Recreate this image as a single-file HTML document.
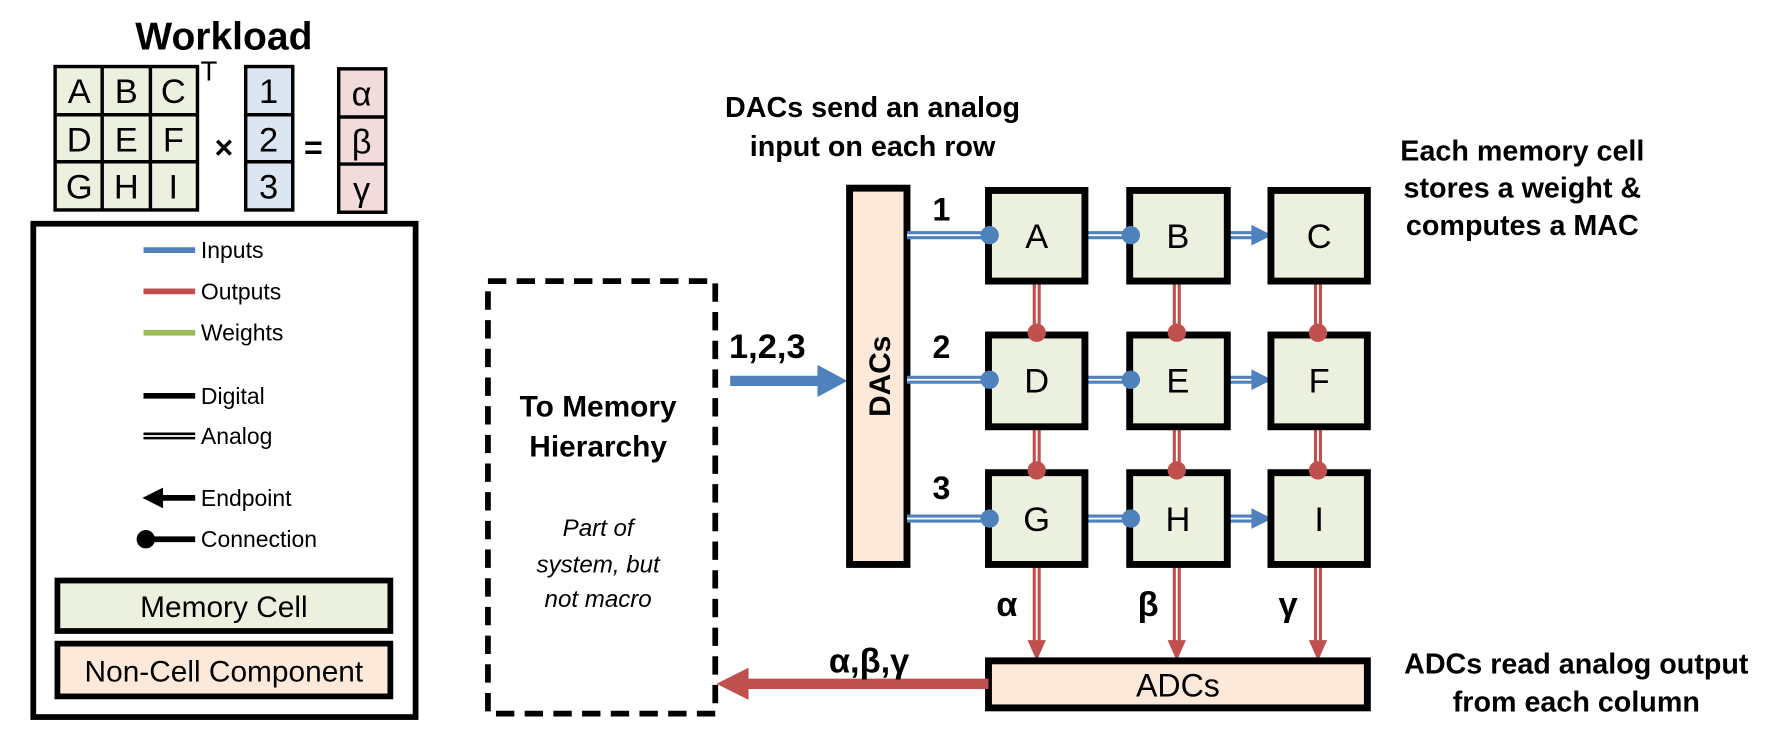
<!DOCTYPE html>
<html><head><meta charset="utf-8"><style>
html,body{margin:0;padding:0;background:#fff;}
svg{display:block;}
text{font-family:"Liberation Sans","DejaVu Sans",sans-serif;fill:#000;}
.b{font-weight:bold;}
</style></head><body>
<svg width="1791" height="740" viewBox="0 0 1560 645" preserveAspectRatio="none" xmlns="http://www.w3.org/2000/svg">
<!-- Workload -->
<text x="195" y="43" font-size="34" class="b" text-anchor="middle">Workload</text>
<g stroke="#000" stroke-width="3">
<rect x="48" y="58" width="124" height="125" fill="#ebf0df"/>
<line x1="89" y1="58" x2="89" y2="183"/><line x1="131" y1="58" x2="131" y2="183"/>
<line x1="48" y1="100" x2="172" y2="100"/><line x1="48" y1="141" x2="172" y2="141"/>
<rect x="214" y="58" width="41" height="125" fill="#dce6f2"/>
<line x1="214" y1="100" x2="255" y2="100"/><line x1="214" y1="141" x2="255" y2="141"/>
<rect x="295" y="60" width="41" height="125" fill="#f2dcdb"/>
<line x1="295" y1="102" x2="336" y2="102"/><line x1="295" y1="143" x2="336" y2="143"/>
</g>
<g font-size="30" text-anchor="middle">
<text x="69" y="90">A</text><text x="110" y="90">B</text><text x="151" y="90">C</text>
<text x="69" y="132">D</text><text x="110" y="132">E</text><text x="151" y="132">F</text>
<text x="69" y="173">G</text><text x="110" y="173">H</text><text x="151" y="173">I</text>
<text x="234" y="90">1</text><text x="234" y="132">2</text><text x="234" y="173">3</text>
<text x="315" y="92">α</text><text x="315" y="134">β</text><text x="315" y="175">γ</text>
</g>
<text x="182" y="70" font-size="24" text-anchor="middle">T</text>
<text x="195" y="138" font-size="28" class="b" text-anchor="middle">×</text>
<text x="273" y="138" font-size="28" class="b" text-anchor="middle">=</text>
<!-- Legend -->
<rect x="29" y="195" width="333" height="430" fill="none" stroke="#000" stroke-width="5"/>
<g stroke-width="5">
<line x1="125" y1="218" x2="170" y2="218" stroke="#4f81bd"/>
<line x1="125" y1="254" x2="170" y2="254" stroke="#c0504d"/>
<line x1="125" y1="290" x2="170" y2="290" stroke="#9bbb59"/>
<line x1="125" y1="345" x2="170" y2="345" stroke="#000"/>
</g>
<line x1="125" y1="380" x2="170" y2="380" stroke="#000" stroke-width="6"/>
<line x1="125" y1="380" x2="170" y2="380" stroke="#fff" stroke-width="1.5"/>
<line x1="138" y1="434" x2="170" y2="434" stroke="#000" stroke-width="5"/>
<path d="M124,434 L142,425 L142,443z" fill="#000"/>
<line x1="125" y1="470" x2="170" y2="470" stroke="#000" stroke-width="5"/>
<circle cx="127" cy="470" r="8" fill="#000"/>
<g font-size="20">
<text x="175" y="225">Inputs</text><text x="175" y="261">Outputs</text><text x="175" y="297">Weights</text>
<text x="175" y="352">Digital</text><text x="175" y="387">Analog</text>
<text x="175" y="441">Endpoint</text><text x="175" y="477">Connection</text>
</g>
<rect x="50" y="506" width="290" height="44" fill="#ebf1de" stroke="#000" stroke-width="5"/>
<text x="195" y="538" font-size="26" text-anchor="middle">Memory Cell</text>
<rect x="50" y="561" width="290" height="46" fill="#fde9d9" stroke="#000" stroke-width="5"/>
<text x="195" y="594" font-size="26" text-anchor="middle">Non-Cell Component</text>
<!-- Dashed box -->
<rect x="425" y="245" width="198" height="377" fill="none" stroke="#000" stroke-width="5" stroke-dasharray="16 9"/>
<text x="521" y="363" font-size="26" class="b" text-anchor="middle">To Memory</text>
<text x="521" y="398" font-size="26" class="b" text-anchor="middle">Hierarchy</text>
<g font-size="21" font-style="italic" text-anchor="middle">
<text x="521" y="467">Part of</text><text x="521" y="499">system, but</text><text x="521" y="529">not macro</text>
</g>
<!-- input arrow -->
<text x="635" y="312" font-size="30" class="b">1,2,3</text>
<line x1="636" y1="332" x2="715" y2="332" stroke="#4f81bd" stroke-width="9"/>
<path d="M712,318 L738,332 L712,346z" fill="#4f81bd"/>
<text x="760" y="102" font-size="25" class="b" text-anchor="middle">DACs send an analog</text>
<text x="760" y="136" font-size="25" class="b" text-anchor="middle">input on each row</text>
<!-- DACs -->
<rect x="740" y="164" width="50" height="328" fill="#fde9d9" stroke="#000" stroke-width="6"/>
<text transform="translate(775,328) rotate(-90)" font-size="26" class="b" text-anchor="middle">DACs</text>
<!-- row labels -->
<g font-size="28" class="b" text-anchor="middle">
<text x="820" y="192">1</text><text x="820" y="312">2</text><text x="820" y="435">3</text>
</g>
<!-- horizontal analog blue lines -->
<g stroke="#4f81bd" stroke-width="7">
<line x1="790" y1="205" x2="860" y2="205"/><line x1="945" y1="205" x2="985" y2="205"/><line x1="1070" y1="205" x2="1092" y2="205"/>
<line x1="790" y1="331" x2="860" y2="331"/><line x1="945" y1="331" x2="985" y2="331"/><line x1="1070" y1="331" x2="1092" y2="331"/>
<line x1="790" y1="452" x2="860" y2="452"/><line x1="945" y1="452" x2="985" y2="452"/><line x1="1070" y1="452" x2="1092" y2="452"/>
</g>
<g stroke="#fff" stroke-width="1.6">
<line x1="790" y1="205" x2="860" y2="205"/><line x1="945" y1="205" x2="985" y2="205"/><line x1="1070" y1="205" x2="1094" y2="205"/>
<line x1="790" y1="331" x2="860" y2="331"/><line x1="945" y1="331" x2="985" y2="331"/><line x1="1070" y1="331" x2="1094" y2="331"/>
<line x1="790" y1="452" x2="860" y2="452"/><line x1="945" y1="452" x2="985" y2="452"/><line x1="1070" y1="452" x2="1094" y2="452"/>
</g>
<g fill="#4f81bd">
<path d="M1090,196 L1108,205 L1090,214z"/><path d="M1090,322 L1108,331 L1090,340z"/><path d="M1090,443 L1108,452 L1090,461z"/>
</g>
<!-- vertical red lines -->
<g stroke="#c0504d" stroke-width="7">
<line x1="903" y1="245" x2="903" y2="290"/><line x1="1025" y1="245" x2="1025" y2="290"/><line x1="1148" y1="245" x2="1148" y2="290"/>
<line x1="903" y1="372" x2="903" y2="410"/><line x1="1025" y1="372" x2="1025" y2="410"/><line x1="1148" y1="372" x2="1148" y2="410"/>
<line x1="903" y1="492" x2="903" y2="562"/><line x1="1025" y1="492" x2="1025" y2="562"/><line x1="1148" y1="492" x2="1148" y2="562"/>
</g>
<g stroke="#fff" stroke-width="1.6">
<line x1="903" y1="245" x2="903" y2="290"/><line x1="1025" y1="245" x2="1025" y2="290"/><line x1="1148" y1="245" x2="1148" y2="290"/>
<line x1="903" y1="372" x2="903" y2="410"/><line x1="1025" y1="372" x2="1025" y2="410"/><line x1="1148" y1="372" x2="1148" y2="410"/>
<line x1="903" y1="492" x2="903" y2="562"/><line x1="1025" y1="492" x2="1025" y2="562"/><line x1="1148" y1="492" x2="1148" y2="562"/>
</g>
<g fill="#c0504d">
<path d="M895,558 L903,576 L911,558z"/><path d="M1017,558 L1025,576 L1033,558z"/><path d="M1140,558 L1148,576 L1156,558z"/>
</g>
<!-- cells -->
<g fill="#ebf0df" stroke="#000" stroke-width="6">
<rect x="861" y="166" width="84" height="79"/><rect x="984" y="166" width="85" height="79"/><rect x="1107" y="166" width="84" height="79"/>
<rect x="861" y="292" width="84" height="80"/><rect x="984" y="292" width="85" height="80"/><rect x="1107" y="292" width="84" height="80"/>
<rect x="861" y="412" width="84" height="80"/><rect x="984" y="412" width="85" height="80"/><rect x="1107" y="412" width="84" height="80"/>
</g>
<g font-size="30" text-anchor="middle">
<text x="903" y="216">A</text><text x="1026" y="216">B</text><text x="1149" y="216">C</text>
<text x="903" y="342">D</text><text x="1026" y="342">E</text><text x="1149" y="342">F</text>
<text x="903" y="463">G</text><text x="1026" y="463">H</text><text x="1149" y="463">I</text>
</g>
<!-- dots -->
<g fill="#4f81bd">
<circle cx="862" cy="205" r="8"/><circle cx="985" cy="205" r="8"/>
<circle cx="862" cy="331" r="8"/><circle cx="985" cy="331" r="8"/>
<circle cx="862" cy="452" r="8"/><circle cx="985" cy="452" r="8"/>
</g>
<g fill="#c0504d">
<circle cx="903" cy="290" r="8"/><circle cx="1025" cy="290" r="8"/><circle cx="1148" cy="290" r="8"/>
<circle cx="903" cy="410" r="8"/><circle cx="1025" cy="410" r="8"/><circle cx="1148" cy="410" r="8"/>
</g>
<g font-size="30" class="b" text-anchor="middle">
<text x="877" y="537">α</text><text x="1000" y="537">β</text><text x="1122" y="537">γ</text>
</g>
<!-- ADCs -->
<rect x="861" y="576" width="330" height="41" fill="#fde9d9" stroke="#000" stroke-width="6"/>
<text x="1026" y="607" font-size="28" text-anchor="middle">ADCs</text>
<line x1="650" y1="596" x2="861" y2="596" stroke="#c0504d" stroke-width="9"/>
<path d="M624,596 L652,582 L652,610z" fill="#c0504d"/>
<text x="757" y="586" font-size="30" class="b" text-anchor="middle">α,β,γ</text>
<g font-size="25" class="b" text-anchor="middle">
<text x="1326" y="140">Each memory cell</text>
<text x="1326" y="172">stores a weight &amp;</text>
<text x="1326" y="205">computes a MAC</text>
<text x="1373" y="587">ADCs read analog output</text>
<text x="1373" y="620">from each column</text>
</g>
</svg>
</body></html>
